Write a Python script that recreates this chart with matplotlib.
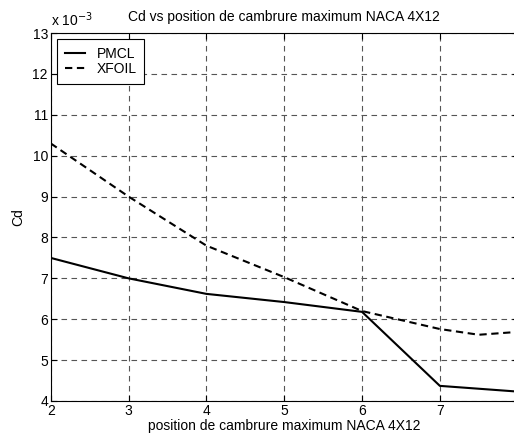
import matplotlib
matplotlib.use("Agg")
import matplotlib.pyplot as plt
from matplotlib.ticker import FuncFormatter, FixedLocator

plt.rcParams['font.family'] = ['Liberation Sans', 'DejaVu Sans']

x_pmcl = [2, 3, 4, 5, 6, 7, 8]
cd_pmcl = [7.5e-3, 7.0e-3, 6.62e-3, 6.42e-3, 6.18e-3, 4.37e-3, 4.23e-3]
x_xfoil = [2, 3, 4, 5, 6, 7, 7.5, 8]
cd_xfoil = [10.3e-3, 9.0e-3, 7.8e-3, 7.03e-3, 6.2e-3, 5.76e-3, 5.62e-3, 5.69e-3]
xticks = [2, 3, 4, 5, 6, 7]
yticks = [4e-3, 5e-3, 6e-3, 7e-3, 8e-3, 9e-3, 10e-3, 11e-3, 12e-3, 13e-3]

FS = 10

fig = plt.figure(figsize=(5.14, 4.38), dpi=100)
ax = fig.add_axes([50.7/514, 37/438, 467/514, 368/438])

ax.plot(x_pmcl, cd_pmcl, color='black', lw=1.5, ls='-', label='PMCL')
ax.plot(x_xfoil, cd_xfoil, color='black', lw=1.5, ls=(0, (3.5, 2.2)), label='XFOIL')

ax.set_xlim(2, 8)
ax.set_ylim(4e-3, 13e-3)
ax.xaxis.set_major_locator(FixedLocator(xticks))
ax.yaxis.set_major_locator(FixedLocator(yticks))
ax.yaxis.set_major_formatter(FuncFormatter(lambda v, p: f"{v*1000:g}"))
ax.tick_params(direction='in', length=4, width=0.8, labelsize=FS, pad=2,
               top=True, right=True)
ax.grid(True, color='#555555', ls=(0, (5, 4)), lw=0.8)
for s in ax.spines.values():
    s.set_linewidth(0.8)

ax.set_title('Cd vs position de cambrure maximum NACA 4X12', fontsize=FS, pad=9)
ax.set_xlabel('position de cambrure maximum NACA 4X12', fontsize=FS, labelpad=1)
ax.set_ylabel('Cd', fontsize=FS, labelpad=5)
ax.text(0.0, 1.012, r'x 10$^{-3}$', transform=ax.transAxes, fontsize=FS,
        ha='left', va='bottom')

leg = ax.legend(loc='upper left', fontsize=FS, frameon=True, fancybox=False,
                edgecolor='black', handlelength=1.5, borderaxespad=0.45,
                borderpad=0.55, labelspacing=0.1, handletextpad=0.8)
leg.get_frame().set_linewidth(0.8)
leg.get_frame().set_alpha(1)

fig.savefig('out.png', dpi=100)
